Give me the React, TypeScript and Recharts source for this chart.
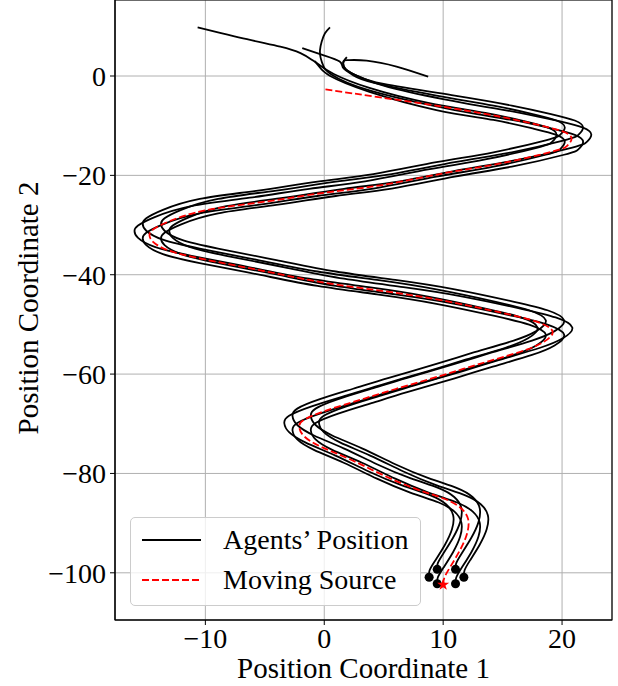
import {
  ComposedChart,
  Line,
  Scatter,
  XAxis,
  YAxis,
  CartesianGrid,
  ReferenceArea,
  Legend,
  Symbols
} from 'recharts';

const FONT = '"Liberation Serif", "Times New Roman", serif';

const X_DOMAIN: [number, number] = [-17.6, 24.2];
const Y_DOMAIN: [number, number] = [-109.5, 15.3];
const X_TICKS = [-10, 0, 10, 20];
const Y_TICKS = [0, -20, -40, -60, -80, -100];

// moving source path (top end -> star at the bottom)
const SOURCE = [
  [0.1, -2.7], [4.7, -4.3], [10.0, -6.2], [14.8, -8.2], [18.1, -9.9], [20.1, -11.2], [20.8, -12.6],
  [20.4, -14.1], [19.2, -15.2], [14.8, -17.6], [10.0, -19.6], [4.7, -22.0], [0.0, -23.5], [-5.0, -25.3],
  [-9.9, -27.0], [-13.0, -29.2], [-14.4, -30.9], [-14.7, -32.0], [-14.4, -33.4], [-13.0, -35.2],
  [-9.9, -37.0], [-5.0, -39.3], [0.0, -41.6], [5.0, -43.3], [10.0, -45.2], [15.0, -47.7], [17.8, -49.4],
  [19.2, -51.4], [18.4, -53.6], [16.5, -55.5], [13.0, -58.0], [10.0, -60.2], [6.0, -63.0], [3.0, -65.2],
  [0.2, -67.3], [-1.7, -69.2], [-2.1, -70.7], [-1.7, -72.5], [-0.3, -74.6], [2.2, -77.2], [5.0, -80.4],
  [7.8, -83.2], [10.2, -85.2], [11.5, -87.0], [12.1, -89.2], [12.0, -92.2], [11.4, -95.5], [10.6, -98.8],
  [10.1, -101.0], [10.0, -102.4]
];

// agents' positions
const AGENT_1 = [
  [-10.65, 9.8], [-6.5, 7.4], [-3.7, 5.9], [-2.0, 4.6], [-1.0, 3.2], [-0.4, 2.2], [0.8, 0.4], [3.8, -2.4],
  [8.74, -5.4], [13.54, -7.4], [16.84, -9.1], [18.84, -10.4], [19.54, -11.8], [19.14, -13.3], [17.94, -14.4],
  [13.54, -16.8], [8.74, -18.8], [3.44, -21.2], [-1.26, -22.7], [-6.26, -24.5], [-11.16, -26.2],
  [-14.26, -28.4], [-15.66, -30.1], [-15.96, -31.2], [-15.66, -32.6], [-14.26, -34.4], [-11.16, -36.2],
  [-6.26, -38.5], [-1.26, -40.8], [3.74, -42.5], [8.74, -44.4], [13.74, -46.9], [16.54, -48.6],
  [17.94, -50.6], [17.14, -52.8], [15.24, -54.7], [11.74, -57.2], [8.74, -59.4], [4.74, -62.2],
  [1.74, -64.4], [-1.06, -66.5], [-2.96, -68.4], [-3.36, -69.9], [-2.96, -71.7], [-1.56, -73.8],
  [0.94, -76.4], [3.74, -79.6], [6.54, -82.4], [8.94, -84.4], [10.24, -86.2], [10.84, -88.4],
  [10.74, -91.25], [10.14, -94.4], [9.34, -97.5], [8.86, -99.5], [8.82, -100.9]
];

const AGENT_2 = [
  [-1.85, 5.6], [-0.1, 4.2], [1.3, 2.9], [1.6, 1.6], [2.4, 0.2], [4.2, -1.4],
  [9.43, -3.95], [14.23, -5.95], [17.53, -7.65], [19.53, -8.95], [20.23, -10.35], [19.83, -11.85],
  [18.63, -12.95], [14.23, -15.35], [9.43, -17.35], [4.13, -19.75], [-0.57, -21.25], [-5.57, -23.05],
  [-10.47, -24.75], [-13.57, -26.95], [-14.97, -28.65], [-15.27, -29.75], [-14.97, -31.15],
  [-13.57, -32.95], [-10.47, -34.75], [-5.57, -37.05], [-0.57, -39.35], [4.43, -41.05], [9.43, -42.95],
  [14.43, -45.45], [17.23, -47.15], [18.63, -49.15], [17.83, -51.35], [15.93, -53.25], [12.43, -55.75],
  [9.43, -57.95], [5.43, -60.75], [2.43, -62.95], [-0.37, -65.05], [-2.27, -66.95], [-2.67, -68.45],
  [-2.27, -70.25], [-0.87, -72.35], [1.63, -74.95], [4.43, -78.15], [7.23, -80.95], [9.63, -82.95],
  [10.93, -84.75], [11.53, -86.95], [11.43, -89.8], [10.83, -92.95], [10.03, -96.05], [9.55, -98.05],
  [9.5, -99.3]
];

const AGENT_3 = [
  [-0.8, 3.0], [-0.4, 1.8], [0.5, 0.0], [3.8, -3.2],
  [9.43, -6.85], [14.23, -8.85], [17.53, -10.55], [19.53, -11.85], [20.23, -13.25], [19.83, -14.75],
  [18.63, -15.85], [14.23, -18.25], [9.43, -20.25], [4.13, -22.65], [-0.57, -24.15], [-5.57, -25.95],
  [-10.47, -27.65], [-13.57, -29.85], [-14.97, -31.55], [-15.27, -32.65], [-14.97, -34.05],
  [-13.57, -35.85], [-10.47, -37.65], [-5.57, -39.95], [-0.57, -42.25], [4.43, -43.95], [9.43, -45.85],
  [14.43, -48.35], [17.23, -50.05], [18.63, -52.05], [17.83, -54.25], [15.93, -56.15], [12.43, -58.65],
  [9.43, -60.85], [5.43, -63.65], [2.43, -65.85], [-0.37, -67.95], [-2.27, -69.85], [-2.67, -71.35],
  [-2.27, -73.15], [-0.87, -75.25], [1.63, -77.85], [4.43, -81.05], [7.23, -83.85], [9.63, -85.85],
  [10.93, -87.65], [11.53, -89.85], [11.43, -92.7], [10.83, -95.85], [10.03, -98.95], [9.55, -100.95],
  [9.5, -102.2]
];

const AGENT_4 = [
  [8.74, -0.14], [6.08, 1.9], [3.56, 3.1], [2.0, 3.2], [1.6, 2.9], [1.8, 1.4], [2.8, 0.0], [5.0, -1.6],
  [10.97, -3.95], [15.77, -5.95], [19.07, -7.65], [21.07, -8.95], [21.77, -10.35], [21.37, -11.85],
  [20.17, -12.95], [15.77, -15.35], [10.97, -17.35], [5.67, -19.75], [0.97, -21.25], [-4.03, -23.05],
  [-8.93, -24.75], [-12.03, -26.95], [-13.43, -28.65], [-13.73, -29.75], [-13.43, -31.15],
  [-12.03, -32.95], [-8.93, -34.75], [-4.03, -37.05], [0.97, -39.35], [5.97, -41.05], [10.97, -42.95],
  [15.97, -45.45], [18.77, -47.15], [20.17, -49.15], [19.37, -51.35], [17.47, -53.25], [13.97, -55.75],
  [10.97, -57.95], [6.97, -60.75], [3.97, -62.95], [1.17, -65.05], [-0.73, -66.95], [-1.13, -68.45],
  [-0.73, -70.25], [0.67, -72.35], [3.17, -74.95], [5.97, -78.15], [8.77, -80.95], [11.17, -82.95],
  [12.47, -84.75], [13.07, -86.95], [12.97, -89.8], [12.37, -92.95], [11.57, -96.05], [11.1, -98.05],
  [11.04, -99.3]
];

const AGENT_5 = [
  [0.48, 9.8], [0.06, 8.6], [-0.22, 6.9], [-0.36, 5.2], [-0.3, 3.6], [-0.05, 1.9], [0.6, 0.3], [3.8, -2.9],
  [10.97, -6.85], [15.77, -8.85], [19.07, -10.55], [21.07, -11.85], [21.77, -13.25], [21.37, -14.75],
  [20.17, -15.85], [15.77, -18.25], [10.97, -20.25], [5.67, -22.65], [0.97, -24.15], [-4.03, -25.95],
  [-8.93, -27.65], [-12.03, -29.85], [-13.43, -31.55], [-13.73, -32.65], [-13.43, -34.05],
  [-12.03, -35.85], [-8.93, -37.65], [-4.03, -39.95], [0.97, -42.25], [5.97, -43.95], [10.97, -45.85],
  [15.97, -48.35], [18.77, -50.05], [20.17, -52.05], [19.37, -54.25], [17.47, -56.15], [13.97, -58.65],
  [10.97, -60.85], [6.97, -63.65], [3.97, -65.85], [1.17, -67.95], [-0.73, -69.85], [-1.13, -71.35],
  [-0.73, -73.15], [0.67, -75.25], [3.17, -77.85], [5.97, -81.05], [8.77, -83.85], [11.17, -85.85],
  [12.47, -87.65], [13.07, -89.85], [12.97, -92.7], [12.37, -95.85], [11.57, -98.95], [11.1, -100.95],
  [11.04, -102.2]
];

const AGENT_6 = [
  [1.9, 3.8], [1.6, 2.6], [2.0, 1.0], [3.4, -0.6], [6.0, -2.6],
  [11.66, -5.4], [16.46, -7.4], [19.76, -9.1], [21.76, -10.4], [22.46, -11.8], [22.06, -13.3],
  [20.86, -14.4], [16.46, -16.8], [11.66, -18.8], [6.36, -21.2], [1.66, -22.7], [-3.34, -24.5],
  [-8.24, -26.2], [-11.34, -28.4], [-12.74, -30.1], [-13.04, -31.2], [-12.74, -32.6], [-11.34, -34.4],
  [-8.24, -36.2], [-3.34, -38.5], [1.66, -40.8], [6.66, -42.5], [11.66, -44.4], [16.66, -46.9],
  [19.46, -48.6], [20.86, -50.6], [20.06, -52.8], [18.16, -54.7], [14.66, -57.2], [11.66, -59.4],
  [7.66, -62.2], [4.66, -64.4], [1.86, -66.5], [-0.04, -68.4], [-0.44, -69.9], [-0.04, -71.7],
  [1.36, -73.8], [3.86, -76.4], [6.66, -79.6], [9.46, -82.4], [11.86, -84.4], [13.16, -86.2],
  [13.76, -88.4], [13.66, -91.25], [13.06, -94.4], [12.26, -97.5], [11.8, -99.5], [11.74, -100.9]
];

const AGENTS = [AGENT_1, AGENT_2, AGENT_3, AGENT_4, AGENT_5, AGENT_6];

const toPoints = (pts: number[][]) => pts.map(([x, y]) => ({ x, y }));
const fmt = (v: number) => (v < 0 ? `\u2212${Math.abs(v)}` : `${v}`);

const agentEnds = AGENTS.map((a) => ({ x: a[a.length - 1][0], y: a[a.length - 1][1] }));
const sourceEnd = [{ x: SOURCE[SOURCE.length - 1][0], y: SOURCE[SOURCE.length - 1][1] }];

function LegendBox() {
  const row = (top: number, color: string, dash: string | undefined, label: string) => (
    <div style={{ position: 'absolute', left: 11, top, height: 40, display: 'flex', alignItems: 'center' }}>
      <svg width={59} height={6} style={{ marginRight: 22 }}>
        <line x1={0} y1={3} x2={59} y2={3} stroke={color} strokeWidth={1.8} strokeDasharray={dash} />
      </svg>
      <span style={{ whiteSpace: 'nowrap', lineHeight: '40px' }}>{label}</span>
    </div>
  );
  return (
    <div
      style={{
        position: 'relative',
        boxSizing: 'border-box',
        width: 291,
        height: 89,
        border: '1px solid #cccccc',
        borderRadius: 5,
        background: 'rgba(255,255,255,0.8)',
        fontFamily: FONT,
        fontSize: 28,
        color: '#000'
      }}
    >
      {row(2, '#000', undefined, 'Agents\u2019 Position')}
      {row(42, '#ff0000', '7 3', 'Moving Source')}
    </div>
  );
}

export default function App() {
  return (
    <div style={{ position: 'absolute', left: 0, top: 0, width: 618, height: 686, background: '#fff' }}>
      <ComposedChart width={618} height={686} margin={{ top: 0, right: 6, bottom: 0, left: 0 }}>
        <CartesianGrid stroke="#b0b0b0" strokeWidth={1} />
        <XAxis
          type="number"
          dataKey="x"
          domain={X_DOMAIN}
          ticks={X_TICKS}
          allowDataOverflow
          height={66}
          tickFormatter={fmt}
          tick={{ fill: '#000', fontSize: 28, fontFamily: FONT }}
          tickLine={{ stroke: '#000' }}
          axisLine={{ stroke: '#000' }}
          tickSize={5}
          tickMargin={3}
          label={{
            content: () => (
              <text x={363.5} y={678} textAnchor="middle" fontSize={29} fontFamily={FONT} fill="#000">
                Position Coordinate 1
              </text>
            )
          }}
        />
        <YAxis
          type="number"
          dataKey="y"
          domain={Y_DOMAIN}
          ticks={Y_TICKS}
          allowDataOverflow
          width={115}
          tickFormatter={fmt}
          tick={{ fill: '#000', fontSize: 28, fontFamily: FONT }}
          tickLine={{ stroke: '#000' }}
          axisLine={{ stroke: '#000' }}
          tickSize={5}
          tickMargin={4}
          label={{
            content: () => (
              <text
                x={28}
                y={308}
                transform="rotate(-90 28 308)"
                textAnchor="middle"
                dominantBaseline="central"
                fontSize={29}
                fontFamily={FONT}
                fill="#000"
              >
                Position Coordinate 2
              </text>
            )
          }}
        />
        <ReferenceArea
          x1={X_DOMAIN[0]}
          x2={X_DOMAIN[1]}
          y1={Y_DOMAIN[0]}
          y2={Y_DOMAIN[1]}
          fill="none"
          fillOpacity={0}
          stroke="#000"
          strokeWidth={1.2}
          ifOverflow="visible"
        />
        {AGENTS.map((a, i) => (
          <Line
            key={`agent-${i}`}
            data={toPoints(a)}
            dataKey="y"
            type="natural"
            stroke="#000"
            strokeWidth={1.8}
            dot={false}
            activeDot={false}
            isAnimationActive={false}
            legendType="none"
          />
        ))}
        <Line
          data={toPoints(SOURCE)}
          dataKey="y"
          type="natural"
          stroke="#ff0000"
          strokeWidth={1.8}
          strokeDasharray="7 3"
          dot={false}
          activeDot={false}
          isAnimationActive={false}
          legendType="none"
        />
        <Scatter data={agentEnds} dataKey="y" fill="#000" isAnimationActive={false} legendType="none" />
        <Scatter
          data={sourceEnd}
          dataKey="y"
          fill="#ff0000"
          isAnimationActive={false}
          legendType="none"
          shape={(p: any) => <Symbols cx={p.cx} cy={p.cy} type="star" size={45} fill="#ff0000" />}
        />
        <Legend
          layout="horizontal"
          verticalAlign="middle"
          align="center"
          wrapperStyle={{ left: 130, top: 517, width: 291, height: 89 }}
          content={() => <LegendBox />}
        />
      </ComposedChart>
    </div>
  );
}
